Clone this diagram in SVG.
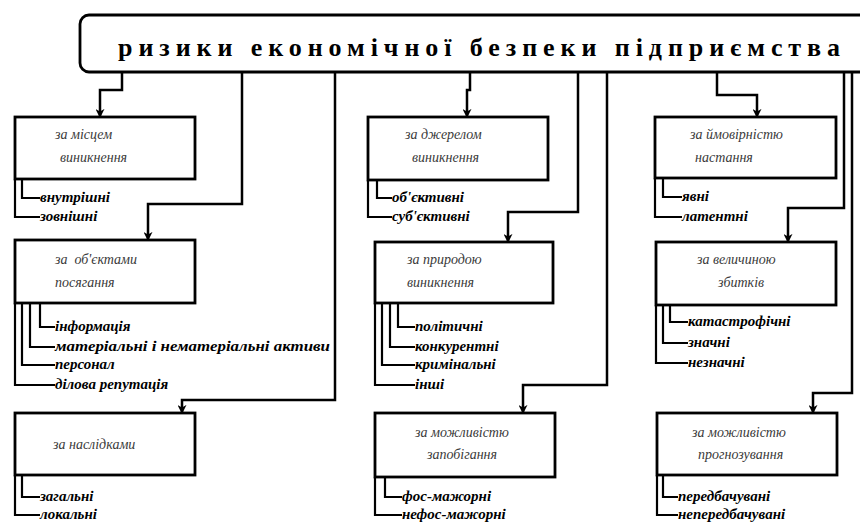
<svg xmlns="http://www.w3.org/2000/svg" width="860" height="523" viewBox="0 0 860 523">
<style>
.box{fill:#fff;stroke:#000;stroke-width:2.8}
.ln{fill:none;stroke:#000;stroke-width:2.5}
.br{fill:none;stroke:#000;stroke-width:2.2}
.lbl{font-family:'Liberation Serif',serif;font-style:italic;font-size:14px;fill:#3a3a3a}
.it{font-family:'Liberation Serif',serif;font-style:italic;font-weight:bold;font-size:15px;fill:#000}
.ttl{font-family:'Liberation Serif',serif;font-weight:bold;font-size:26px;fill:#000}
</style>
<defs>
<marker id="ah" viewBox="0 0 10 10" refX="9" refY="5" markerWidth="9" markerHeight="9" markerUnits="userSpaceOnUse" orient="auto">
<path d="M0,0 L10,5 L0,10 L3,5 z" fill="#000"/>
</marker>
</defs>
<rect width="860" height="523" fill="#fff"/>
<g id="connectors">
<path class="ln" d="M122,72 V90 H100 V117" marker-end="url(#ah)"/>
<path class="ln" d="M242,72 V204 H148 V240" marker-end="url(#ah)"/>
<path class="ln" d="M335,72 V400 H182 V413" marker-end="url(#ah)"/>
<path class="ln" d="M470,72 V90 H467 V117" marker-end="url(#ah)"/>
<path class="ln" d="M578,72 V212 H508 V242" marker-end="url(#ah)"/>
<path class="ln" d="M607,72 V385 H523 V413" marker-end="url(#ah)"/>
<path class="ln" d="M717,72 V95 H757 V117" marker-end="url(#ah)"/>
<path class="ln" d="M844,72 V208 H788 V242" marker-end="url(#ah)"/>
<path class="ln" d="M852,72 V393 H813 V413" marker-end="url(#ah)"/>
<path class="br" d="M22,179 V198 H40 M15,179 V217 H40"/>
<path class="br" d="M40,303 V327 H55 M30,303 V347 H55 M22,303 V365 H55 M15,303 V385 H55"/>
<path class="br" d="M22,475 V497 H40 M15,475 V515 H40"/>
<path class="br" d="M377,180 V198 H392 M368,180 V217 H392"/>
<path class="br" d="M398,303 V327 H415 M390,303 V347 H415 M382,303 V365 H415 M375,303 V385 H415"/>
<path class="br" d="M385,477 V497 H402 M375,477 V515 H402"/>
<path class="br" d="M663,178 V197 H682 M655,178 V217 H682"/>
<path class="br" d="M670,305 V322 H688 M663,305 V343 H688 M656,305 V363 H688"/>
<path class="br" d="M663,475 V497 H678 M657,475 V515 H678"/>
</g>
<g id="title">
<rect class="box" x="80" y="15" width="800" height="57" rx="9"/>
<text class="ttl" x="118" y="56" textLength="722" lengthAdjust="spacing">ризики економічної безпеки підприємства</text>
</g>
<g id="n1">
<rect class="box" x="15" y="117" width="180" height="62"/>
<text class="lbl" x="55" y="139">за місцем</text>
<text class="lbl" x="60" y="162">виникнення</text>
<text class="it" x="40" y="202">внутрішні</text>
<text class="it" x="40" y="221">зовнішні</text>
</g>
<g id="n2">
<rect class="box" x="15" y="240" width="180" height="63"/>
<text class="lbl" x="55" y="264" xml:space="preserve">за  об'єктами</text>
<text class="lbl" x="55" y="287">посягання</text>
<text class="it" x="55" y="331">інформація</text>
<text class="it" x="55" y="351" textLength="275" lengthAdjust="spacingAndGlyphs">матеріальні і нематеріальні активи</text>
<text class="it" x="55" y="369">персонал</text>
<text class="it" x="55" y="389">ділова репутація</text>
</g>
<g id="n3">
<rect class="box" x="15" y="413" width="180" height="62"/>
<text class="lbl" x="53" y="449">за наслідками</text>
<text class="it" x="40" y="501">загальні</text>
<text class="it" x="40" y="519">локальні</text>
</g>
<g id="n4">
<rect class="box" x="368" y="117" width="180" height="63"/>
<text class="lbl" x="405" y="139">за джерелом</text>
<text class="lbl" x="412" y="162">виникнення</text>
<text class="it" x="392" y="202">об'єктивні</text>
<text class="it" x="392" y="221">суб'єктивні</text>
</g>
<g id="n5">
<rect class="box" x="375" y="242" width="178" height="61"/>
<text class="lbl" x="407" y="264">за природою</text>
<text class="lbl" x="407" y="287">виникнення</text>
<text class="it" x="415" y="331">політичні</text>
<text class="it" x="415" y="351">конкурентні</text>
<text class="it" x="415" y="369">кримінальні</text>
<text class="it" x="415" y="389">інші</text>
</g>
<g id="n6">
<rect class="box" x="375" y="413" width="180" height="64"/>
<text class="lbl" x="415" y="437">за можливістю</text>
<text class="lbl" x="427" y="459">запобігання</text>
<text class="it" x="402" y="501">фос-мажорні</text>
<text class="it" x="402" y="519">нефос-мажорні</text>
</g>
<g id="n7">
<rect class="box" x="655" y="117" width="181" height="61"/>
<text class="lbl" x="690" y="139">за ймовірністю</text>
<text class="lbl" x="695" y="162">настання</text>
<text class="it" x="682" y="201">явні</text>
<text class="it" x="682" y="221">латентні</text>
</g>
<g id="n8">
<rect class="box" x="656" y="242" width="180" height="63"/>
<text class="lbl" x="697" y="264">за величиною</text>
<text class="lbl" x="718" y="287">збитків</text>
<text class="it" x="688" y="326">катастрофічні</text>
<text class="it" x="688" y="347">значні</text>
<text class="it" x="688" y="367">незначні</text>
</g>
<g id="n9">
<rect class="box" x="657" y="413" width="180" height="62"/>
<text class="lbl" x="692" y="437">за можливістю</text>
<text class="lbl" x="698" y="459">прогнозування</text>
<text class="it" x="678" y="501">передбачувані</text>
<text class="it" x="678" y="519">непередбачувані</text>
</g>
</svg>
